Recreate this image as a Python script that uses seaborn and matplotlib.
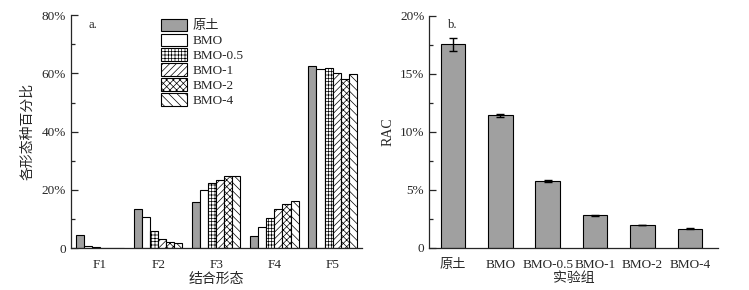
import numpy as np
import pandas as pd
import matplotlib
matplotlib.use("Agg")
import matplotlib.pyplot as plt
import seaborn as sns

# data (percent)
forms = ["F1", "F2", "F3", "F4", "F5"]
groups = ["原土", "BMO", "BMO-0.5", "BMO-1", "BMO-2", "BMO-4"]
pct_yuantu = [4.6, 13.4, 15.7, 4.3, 62.7]
pct_bmo = [0.9, 10.7, 19.9, 7.2, 61.6]
pct_bmo05 = [0.45, 5.8, 22.4, 10.4, 61.9]
pct_bmo1 = [0.1, 3.0, 23.5, 13.6, 60.2]
pct_bmo2 = [0.1, 2.2, 24.9, 15.1, 58.2]
pct_bmo4 = [0.1, 1.7, 24.7, 16.1, 59.9]

rac = [17.56, 11.42, 5.77, 2.81, 1.98, 1.64]
rac_err = [0.55, 0.10, 0.05, 0.04, 0.04, 0.04]

yticks_a = [0, 20, 40, 60, 80]
yticklabels_a = ["0", "20%", "40%", "60%", "80%"]
yticks_b = [0, 5, 10, 15, 20]
yticklabels_b = ["0", "5%", "10%", "15%", "20%"]

sns.set_style("ticks")
plt.rcParams["font.family"] = ["Liberation Serif", "Noto Sans CJK SC"]
plt.rcParams["hatch.linewidth"] = 0.5
plt.rcParams["hatch.color"] = "#444444"
plt.rcParams["axes.linewidth"] = 0.9

series = [pct_yuantu, pct_bmo, pct_bmo05, pct_bmo1, pct_bmo2, pct_bmo4]
df = pd.DataFrame({
    "form": forms * len(groups),
    "group": [g for g in groups for _ in forms],
    "pct": [v for s in series for v in s],
})

fig = plt.figure(figsize=(7.49, 2.90), dpi=100)
ax1 = fig.add_axes([0.0948, 0.144, 0.388, 0.804])
ax2 = fig.add_axes([0.573, 0.145, 0.386, 0.80])

gray = "#a0a0a0"
palette = {g: (gray if g == "原土" else "white") for g in groups}
sns.barplot(data=df, x="form", y="pct", hue="group", hue_order=groups,
            palette=palette, saturation=1, width=0.83, edgecolor="black",
            linewidth=0.8, errorbar=None, legend=False, ax=ax1)

hatches = ["", "", "+++++", "/////", "xxxxx", "\\\\\\\\"]
for cont, h in zip(ax1.containers, hatches):
    for bar in cont:
        bar.set_hatch(h)

ax1.legend(handles=[c[0] for c in ax1.containers], labels=groups,
           loc="upper left", bbox_to_anchor=(0.31, 0.985), frameon=False,
           fontsize=9.5, handlelength=2.0, handleheight=1.05, labelspacing=0.1,
           handletextpad=0.4, borderaxespad=0, borderpad=0)

ax1.set_xlim(-0.5, 4.5)
ax1.set_ylim(0, 80)
ax1.set_yticks(yticks_a, yticklabels_a)
ax1.set_yticks([10, 30, 50, 70], minor=True)
ax1.set_xlabel("结合形态", fontsize=10, labelpad=1)
ax1.set_ylabel("各形态种百分比", fontsize=10, labelpad=5)
ax1.text(0.06, 0.985, "a.", transform=ax1.transAxes, fontsize=9, va="top")

sns.barplot(x=groups, y=rac, color=gray, saturation=1, width=0.52,
            edgecolor="black", linewidth=0.8, errorbar=None, ax=ax2)
ax2.errorbar(np.arange(len(groups)), rac, yerr=rac_err, fmt="none",
             ecolor="black", elinewidth=1.0, capsize=3, capthick=1.0)
ax2.set_xlim(-0.5, 5.6)
ax2.set_ylim(0, 20)
ax2.set_yticks(yticks_b, yticklabels_b)
ax2.set_yticks([2.5, 7.5, 12.5, 17.5], minor=True)
ax2.set_xlabel("实验组", fontsize=10, labelpad=1)
ax2.set_ylabel("RAC", fontsize=10, labelpad=4)
ax2.text(0.065, 0.985, "b.", transform=ax2.transAxes, fontsize=9, va="top")

for ax in (ax1, ax2):
    sns.despine(ax=ax)
    ax.tick_params(axis="y", which="major", direction="in", length=5,
                   width=0.9, labelsize=9.5)
    ax.tick_params(axis="y", which="minor", direction="in", length=3,
                   width=0.9)
    ax.tick_params(axis="x", length=0, labelsize=9.5, pad=8)

fig.savefig("out.png", dpi=100)
